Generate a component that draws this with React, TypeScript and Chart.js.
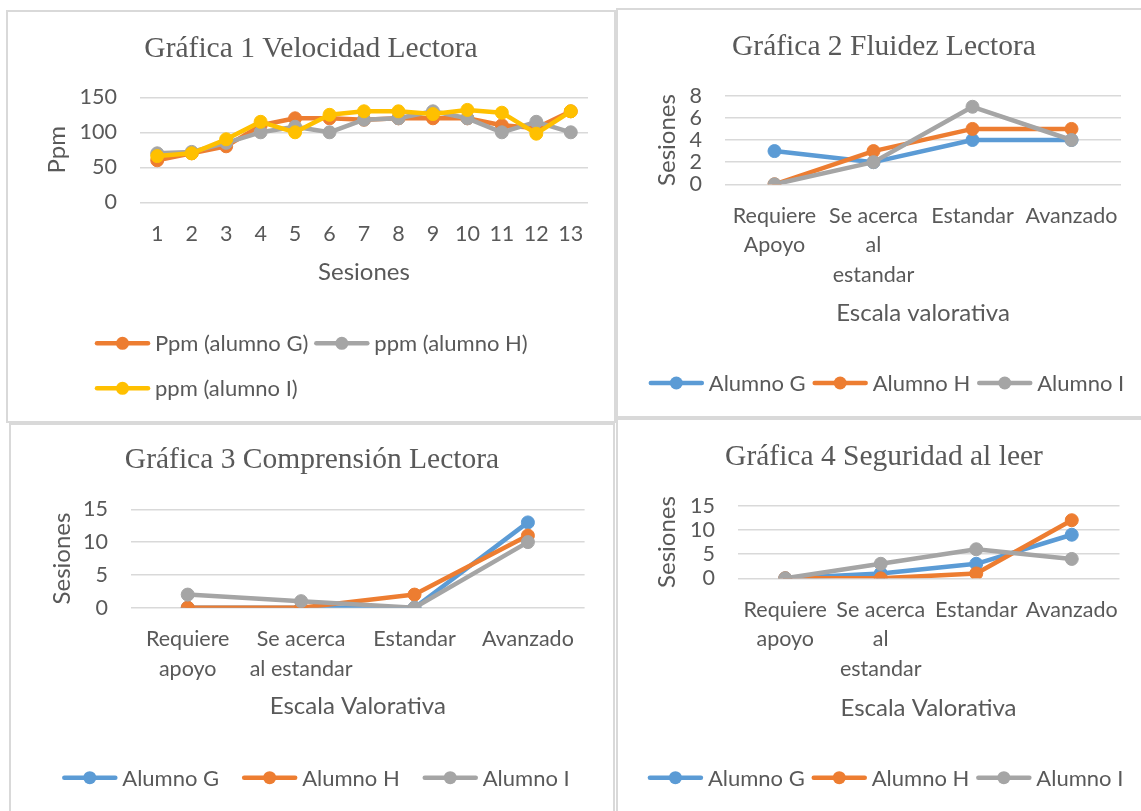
import React, { useEffect, useRef } from 'react';
import { Chart, registerables } from 'chart.js';

Chart.register(...registerables);

// ---------- DATA ----------
const sesiones = ['1', '2', '3', '4', '5', '6', '7', '8', '9', '10', '11', '12', '13'];
const ppmAlumnoG = [60, 70, 80, 110, 120, 120, 118, 120, 120, 120, 110, 106, 130];
const ppmAlumnoH = [70, 72, 85, 100, 108, 100, 118, 120, 130, 120, 100, 115, 100];
const ppmAlumnoI = [66, 70, 90, 115, 100, 125, 130, 130, 126, 132, 128, 98, 130];

const escalaFluidez = [['Requiere', 'Apoyo'], ['Se acerca', 'al', 'estandar'], 'Estandar', 'Avanzado'];
const fluidezG = [3, 2, 4, 4];
const fluidezH = [0, 3, 5, 5];
const fluidezI = [0, 2, 7, 4];

const escalaComprension = [['Requiere', 'apoyo'], ['Se acerca', 'al estandar'], 'Estandar', 'Avanzado'];
const comprensionG = [0, 0, 0, 13];
const comprensionH = [0, 0, 2, 11];
const comprensionI = [2, 1, 0, 10];

const escalaSeguridad = [['Requiere', 'apoyo'], ['Se acerca', 'al', 'estandar'], 'Estandar', 'Avanzado'];
const seguridadG = [0, 1, 3, 9];
const seguridadH = [0, 0, 1, 12];
const seguridadI = [0, 3, 6, 4];

// ---------- STYLE ----------
const BLUE = '#5B9BD5';
const ORANGE = '#ED7D31';
const GRAY = '#A5A5A5';
const YELLOW = '#FFC000';
const TEXT = '#595959';
const GRID = '#d9d9d9';
const SANS = 'Lato, "Open Sans", sans-serif';
const SERIF = '"Liberation Serif", "Times New Roman", serif';
const TITLE_SIZE = 29.5;
const TICK_SIZE = 21.5;
const AXIS_TITLE_SIZE = 24;
const LEGEND_SIZE = 22;

const excelLegend = {
  id: 'excelLegend',
  afterDraw(chart: any, _args: any, opts: any) {
    if (!opts || !opts.rows) return;
    const ctx = chart.ctx;
    const ds = chart.data.datasets;
    ctx.save();
    ctx.font = `${LEGEND_SIZE}px ${SANS}`;
    ctx.textBaseline = 'middle';
    ctx.textAlign = 'left';
    const lineLen = opts.lineLen;
    const textGap = opts.textGap;
    for (const row of opts.rows) {
      const items: number[] = row.items;
      const widths = items.map((i) => lineLen + textGap + ctx.measureText(ds[i].label).width);
      const total = widths.reduce((a, b) => a + b, 0) + opts.itemGap * (items.length - 1);
      let x = opts.align === 'start' ? opts.x : opts.x - total / 2;
      items.forEach((i, k) => {
        const d = ds[i];
        const y = row.y;
        ctx.strokeStyle = d.borderColor;
        ctx.lineWidth = d.borderWidth;
        ctx.lineCap = 'round';
        ctx.beginPath();
        ctx.moveTo(x + 2, y);
        ctx.lineTo(x + lineLen - 2, y);
        ctx.stroke();
        ctx.fillStyle = d.borderColor;
        ctx.beginPath();
        ctx.arc(x + lineLen / 2, y, d.pointRadius, 0, Math.PI * 2);
        ctx.fill();
        ctx.fillStyle = TEXT;
        ctx.fillText(d.label, x + lineLen + textGap, y + 1);
        x += widths[k] + opts.itemGap;
      });
    }
    ctx.restore();
  },
};

type Series = { label: string; data: number[]; color: string };

interface PanelSpec {
  canvas: { x: number; y: number; w: number; h: number };
  area: { l: number; r: number; t: number; b: number };
  title: string;
  titleY: number;
  xTitle: string;
  xTitleY: number;
  yTitle: string;
  yTitleX: number;
  yTickRight: number;
  tickY: number;
  tickLH: number;
  yMax: number;
  yStep: number;
  labels: any[];
  series: Series[];
  legend: { align: 'start' | 'center'; x: number; rows: { y: number; items: number[] }[]; itemGap: number };
}

function buildConfig(p: PanelSpec): any {
  const { x, y, w, h } = p.canvas;
  const cl = p.area.l - x;
  const cr = p.area.r - x;
  const ct = p.area.t - y;
  const cb = p.area.b - y;
  const titleLH = TITLE_SIZE * 1.2;
  const axisLH = AXIS_TITLE_SIZE * 1.2;
  const tc = p.titleY - y;
  const xAxisH = p.xTitleY - y - cb + axisLH / 2;
  return {
    type: 'line',
    data: {
      labels: p.labels,
      datasets: p.series.map((s, i) => ({
        label: s.label,
        data: s.data,
        borderColor: s.color,
        backgroundColor: s.color,
        pointBackgroundColor: s.color,
        pointBorderColor: s.color,
        borderWidth: 4.5,
        pointRadius: 6.5,
        pointHoverRadius: 6.5,
        pointBorderWidth: 1,
        tension: 0,
        fill: false,
        borderJoinStyle: 'round',
        borderCapStyle: 'round',
        order: p.series.length - i,
      })),
    },
    options: {
      responsive: false,
      animation: false,
      events: [],
      layout: { padding: { left: 0, right: 0, top: 0, bottom: h - cb - xAxisH } },
      plugins: {
        legend: { display: false },
        tooltip: { enabled: false },
        title: {
          display: true,
          text: p.title,
          color: TEXT,
          font: { family: SERIF, size: TITLE_SIZE, weight: 'normal', lineHeight: 1.2 },
          padding: { top: tc - titleLH / 2, bottom: ct - tc - titleLH / 2 },
        },
        excelLegend: {
          align: p.legend.align,
          x: p.legend.x - x,
          rows: p.legend.rows.map((r) => ({ y: r.y - y, items: r.items })),
          itemGap: p.legend.itemGap,
          lineLen: 55,
          textGap: 5,
        },
      },
      scales: {
        x: {
          type: 'category',
          offset: true,
          grid: { display: false, drawTicks: false },
          border: { display: false },
          ticks: {
            color: TEXT,
            font: { family: SANS, size: TICK_SIZE, lineHeight: p.tickLH + 'px' },
            padding: p.tickY - y - cb - p.tickLH / 2,
            autoSkip: false,
            maxRotation: 0,
            minRotation: 0,
          },
          title: {
            display: true,
            text: p.xTitle,
            color: TEXT,
            font: { family: SANS, size: AXIS_TITLE_SIZE, lineHeight: 1.2 },
            padding: { top: 0, bottom: 0 },
          },
          afterFit: (s: any) => {
            s.height = xAxisH;
          },
        },
        y: {
          type: 'linear',
          position: 'left',
          min: 0,
          max: p.yMax,
          ticks: {
            stepSize: p.yStep,
            autoSkip: false,
            color: TEXT,
            font: { family: SANS, size: TICK_SIZE },
            padding: p.area.l - p.yTickRight,
          },
          grid: { color: GRID, lineWidth: 1.5, drawTicks: false },
          border: { display: false },
          title: {
            display: true,
            text: p.yTitle,
            color: TEXT,
            font: { family: SANS, size: AXIS_TITLE_SIZE, lineHeight: 1.2 },
            padding: { top: p.yTitleX - x - axisLH / 2, bottom: 0 },
          },
          afterFit: (s: any) => {
            s.width = cl;
          },
        },
        yr: {
          type: 'linear',
          position: 'right',
          display: true,
          grid: { display: false, drawTicks: false },
          border: { display: false },
          ticks: { display: false },
          title: { display: false },
          afterFit: (s: any) => {
            s.width = w - cr;
          },
        },
      },
    },
    plugins: [excelLegend],
  };
}

const panels: PanelSpec[] = [
  {
    canvas: { x: 6, y: 10, w: 610, h: 413 },
    area: { l: 140, r: 588, t: 97.3, b: 202.3 },
    title: 'Gráfica 1 Velocidad Lectora',
    titleY: 49.5,
    xTitle: 'Sesiones',
    xTitleY: 272,
    yTitle: 'Ppm',
    yTitleX: 57,
    yTickRight: 117,
    tickY: 233.7,
    tickLH: 24,
    yMax: 150,
    yStep: 50,
    labels: sesiones,
    series: [
      { label: 'Ppm (alumno G)', data: ppmAlumnoG, color: ORANGE },
      { label: 'ppm (alumno H)', data: ppmAlumnoH, color: GRAY },
      { label: 'ppm (alumno I)', data: ppmAlumnoI, color: YELLOW },
    ],
    legend: { align: 'start', x: 95, rows: [{ y: 343.3, items: [0, 1] }, { y: 388.3, items: [2] }], itemGap: 6 },
  },
  {
    canvas: { x: 616, y: 8, w: 536, h: 410 },
    area: { l: 725, r: 1121, t: 95.7, b: 184.3 },
    title: 'Gráfica 2 Fluidez Lectora',
    titleY: 47,
    xTitle: 'Escala valorativa',
    xTitleY: 313,
    yTitle: 'Sesiones',
    yTitleX: 667,
    yTickRight: 702,
    tickY: 216,
    tickLH: 29.5,
    yMax: 8,
    yStep: 2,
    labels: escalaFluidez,
    series: [
      { label: 'Alumno G', data: fluidezG, color: BLUE },
      { label: 'Alumno H', data: fluidezH, color: ORANGE },
      { label: 'Alumno I', data: fluidezI, color: GRAY },
    ],
    legend: { align: 'center', x: 886.5, rows: [{ y: 383, items: [0, 1, 2] }], itemGap: 7 },
  },
  {
    canvas: { x: 9, y: 423, w: 606, h: 400 },
    area: { l: 131, r: 584.6, t: 509.3, b: 607.7 },
    title: 'Gráfica 3 Comprensión Lectora',
    titleY: 460,
    xTitle: 'Escala Valorativa',
    xTitleY: 706.7,
    yTitle: 'Sesiones',
    yTitleX: 62,
    yTickRight: 108,
    tickY: 639,
    tickLH: 30,
    yMax: 15,
    yStep: 5,
    labels: escalaComprension,
    series: [
      { label: 'Alumno G', data: comprensionG, color: BLUE },
      { label: 'Alumno H', data: comprensionH, color: ORANGE },
      { label: 'Alumno I', data: comprensionI, color: GRAY },
    ],
    legend: { align: 'center', x: 316, rows: [{ y: 777.7, items: [0, 1, 2] }], itemGap: 23 },
  },
  {
    canvas: { x: 616, y: 418, w: 536, h: 400 },
    area: { l: 737.5, r: 1119.5, t: 505.7, b: 578.3 },
    title: 'Gráfica 4 Seguridad al leer',
    titleY: 457.5,
    xTitle: 'Escala Valorativa',
    xTitleY: 708,
    yTitle: 'Sesiones',
    yTitleX: 667.5,
    yTickRight: 715,
    tickY: 610,
    tickLH: 29.5,
    yMax: 15,
    yStep: 5,
    labels: escalaSeguridad,
    series: [
      { label: 'Alumno G', data: seguridadG, color: BLUE },
      { label: 'Alumno H', data: seguridadH, color: ORANGE },
      { label: 'Alumno I', data: seguridadI, color: GRAY },
    ],
    legend: { align: 'center', x: 885.6, rows: [{ y: 777.7, items: [0, 1, 2] }], itemGap: 7 },
  },
];

function Panel({ spec }: { spec: PanelSpec }) {
  const ref = useRef<HTMLCanvasElement | null>(null);
  useEffect(() => {
    if (!ref.current) return;
    const chart = new Chart(ref.current, buildConfig(spec));
    return () => chart.destroy();
  }, [spec]);
  const { x, y, w, h } = spec.canvas;
  return (
    <>
      <canvas
        ref={ref}
        width={w}
        height={h}
        style={{ position: 'absolute', left: x, top: y, width: w, height: h }}
      />
      <div
        style={{
          position: 'absolute',
          left: x,
          top: y,
          width: w,
          height: h,
          border: `2px solid ${GRID}`,
          boxSizing: 'border-box',
          pointerEvents: 'none',
        }}
      />
    </>
  );
}

export default function App() {
  return (
    <div
      style={{
        position: 'fixed',
        left: 0,
        top: 0,
        width: 1141,
        height: 811,
        overflow: 'hidden',
        background: '#ffffff',
      }}
    >
      {panels.map((p, i) => (
        <Panel key={i} spec={p} />
      ))}
    </div>
  );
}
